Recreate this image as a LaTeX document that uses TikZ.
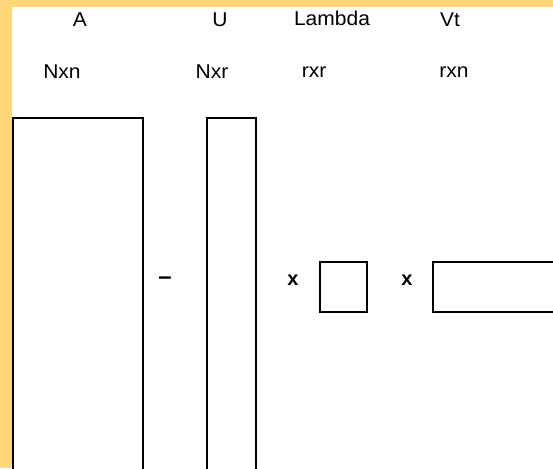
\documentclass[tikz,border=0pt]{standalone}
\usepackage{fontspec}
\setmainfont{Liberation Sans}
\definecolor{bgorange}{RGB}{255,213,122}
\begin{document}
\begin{tikzpicture}[x=1pt,y=-1pt,
  mat/.style={draw=black,line width=2pt,fill=white,inner sep=0pt,anchor=north west},
  lab/.style={font=\fontsize{20}{20}\selectfont,inner sep=0pt,xscale=1.05},
  op/.style={font=\fontsize{20}{20}\selectfont\bfseries,inner sep=0pt}]
\useasboundingbox (0,0) rectangle (553,468);
\fill[bgorange] (0,0) rectangle (553,468);
\fill[white] (12,7) rectangle (553,468);
\begin{scope}
\clip (0,0) rectangle (553,468);
\node[mat,minimum width=130pt,minimum height=370pt] (A) at (12,117) {};
\node[mat,minimum width=49pt,minimum height=370pt] (U) at (206,117) {};
\node[mat,minimum width=47pt,minimum height=50pt] (L) at (319,261) {};
\node[mat,minimum width=150pt,minimum height=50pt] (V) at (432,261) {};
\end{scope}
\node[lab] (tA) at (80,20) {A};
\node[lab] (tU) at (220,20) {U};
\node[lab] (tL) at (332,18) {Lambda};
\node[lab] (tV) at (450,20) {Vt};
\node[lab] (dA) at (62,72) {Nxn};
\node[lab] (dU) at (212,72) {Nxr};
\node[lab] (dL) at (314,72) {rxr};
\node[lab] (dV) at (454,72) {rxn};
\node[op,scale=1.2] (eq) at (165,281) {–};
\node[op] (x1) at (293,280) {x};
\node[op] (x2) at (407,280) {x};
\end{tikzpicture}
\end{document}
